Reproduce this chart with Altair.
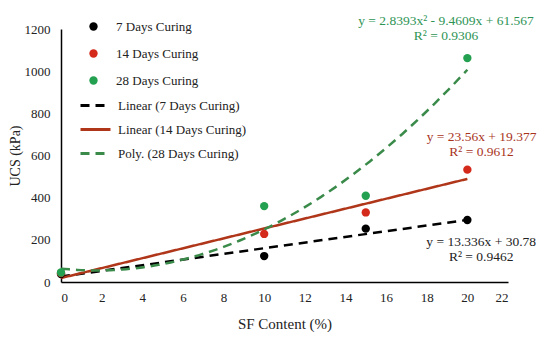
import altair as alt
import pandas as pd

# ---- data ----
sf_content = [0, 10, 15, 20]
ucs_7 = [38, 123, 253, 294]
ucs_14 = [42, 228, 330, 533]
ucs_28 = [45, 360, 409, 1062]

series_names = ["7 Days Curing", "14 Days Curing", "28 Days Curing"]
trend_names = ["Linear (7 Days Curing)", "Linear (14 Days Curing)", "Poly. (28 Days Curing)"]

eq_text = [
    "y = 13.336x + 30.78", "R² = 0.9462",
    "y = 23.56x + 19.377", "R² = 0.9612",
    "y = 2.8393x² - 9.4609x + 61.567", "R² = 0.9306",
]

rows = []
for name, vals in zip(series_names, [ucs_7, ucs_14, ucs_28]):
    for x, y in zip(sf_content, vals):
        rows.append({"sf": x, "ucs": y, "series": name})
df = pd.DataFrame(rows)

FONT = "serif"

xs = alt.X("sf:Q", scale=alt.Scale(domain=[0, 22], nice=False),
           axis=alt.Axis(values=list(range(0, 23, 2)), title="SF Content (%)",
                         labelFont=FONT, titleFont=FONT, format="d"))
ys = alt.Y("ucs:Q", scale=alt.Scale(domain=[0, 1200], nice=False),
           axis=alt.Axis(values=list(range(0, 1201, 200)), title="UCS (kPa)",
                         labelFont=FONT, titleFont=FONT, format="d"))

points = alt.Chart(df).mark_circle(size=70, opacity=1).encode(
    x=xs, y=ys,
    color=alt.Color("series:N",
                    scale=alt.Scale(domain=series_names, range=["#000000", "#d42a1c", "#23a050"]),
                    legend=alt.Legend(title=None, orient="none", legendX=26, legendY=-9,
                                      symbolType="circle", symbolSize=70,
                                      labelOffset=16, rowPadding=13,
                                      labelFont=FONT, labelFontSize=13, labelColor="#222")),
)

trend_scale = alt.Scale(domain=trend_names, range=["#000000", "#b0361a", "#3a8a4a"])
dash_scale = alt.Scale(domain=trend_names, range=[[9, 6], [1, 0], [9, 6]])
trend_legend = alt.Legend(title=None, orient="none", legendX=18, legendY=60,
                          symbolType="stroke", symbolSize=900, symbolStrokeWidth=3,
                          labelOffset=6, rowPadding=-0.8,
                          labelFont=FONT, labelFontSize=13, labelColor="#222")


def trend(series, tname, method, order=None):
    kw = dict(method=method)
    if order is not None:
        kw["order"] = order
    return alt.Chart(df).transform_filter(
        alt.datum.series == series
    ).transform_regression("sf", "ucs", **kw).transform_calculate(
        trend=f"'{tname}'"
    ).mark_line(strokeWidth=2.5).encode(
        x=xs, y=ys,
        color=alt.Color("trend:N", scale=trend_scale, legend=trend_legend),
        strokeDash=alt.StrokeDash("trend:N", scale=dash_scale, legend=trend_legend),
    )


lines = alt.layer(
    trend(series_names[0], trend_names[0], "linear"),
    trend(series_names[1], trend_names[1], "linear"),
    trend(series_names[2], trend_names[2], "poly", 2),
)

ann = pd.DataFrame({
    "sf": [20.68, 20.68, 20.7, 20.7, 18.95, 18.95],
    "ucs": [190, 119, 688, 616, 1238, 1166],
    "text": eq_text,
    "grp": ["k", "k", "r", "r", "g", "g"],
})
labels = alt.Chart(ann).mark_text(font=FONT, fontSize=13.5, align="center", baseline="middle").encode(
    x=alt.X("sf:Q", scale=alt.Scale(domain=[0, 22], nice=False)),
    y=alt.Y("ucs:Q", scale=alt.Scale(domain=[0, 1200], nice=False)),
    text="text:N",
    color=alt.Color("grp:N", scale=alt.Scale(domain=["k", "r", "g"],
                                            range=["#222222", "#a8341c", "#2e9455"]), legend=None),
)

chart = alt.layer(lines, points, labels).resolve_scale(
    color="independent", strokeDash="independent"
).properties(
    width=447, height=253,
    autosize=alt.AutoSizeParams(type="none"),
    padding={"left": 53, "top": 21, "right": 34, "bottom": 50},
    background="white",
).configure(font=FONT).configure_view(stroke=None).configure_axis(
    grid=False, ticks=False, domainColor="#000", domainWidth=1.5,
    labelFontSize=13, labelColor="#222",
    titleFontSize=15, titleFontWeight="normal", titleColor="#222",
).configure_axisX(titlePadding=12, labelPadding=9).configure_axisY(titlePadding=2, labelPadding=11,
                                                                   titleFontSize=14)

chart.save("out.html", embed_options={"renderer": "svg", "actions": False})
